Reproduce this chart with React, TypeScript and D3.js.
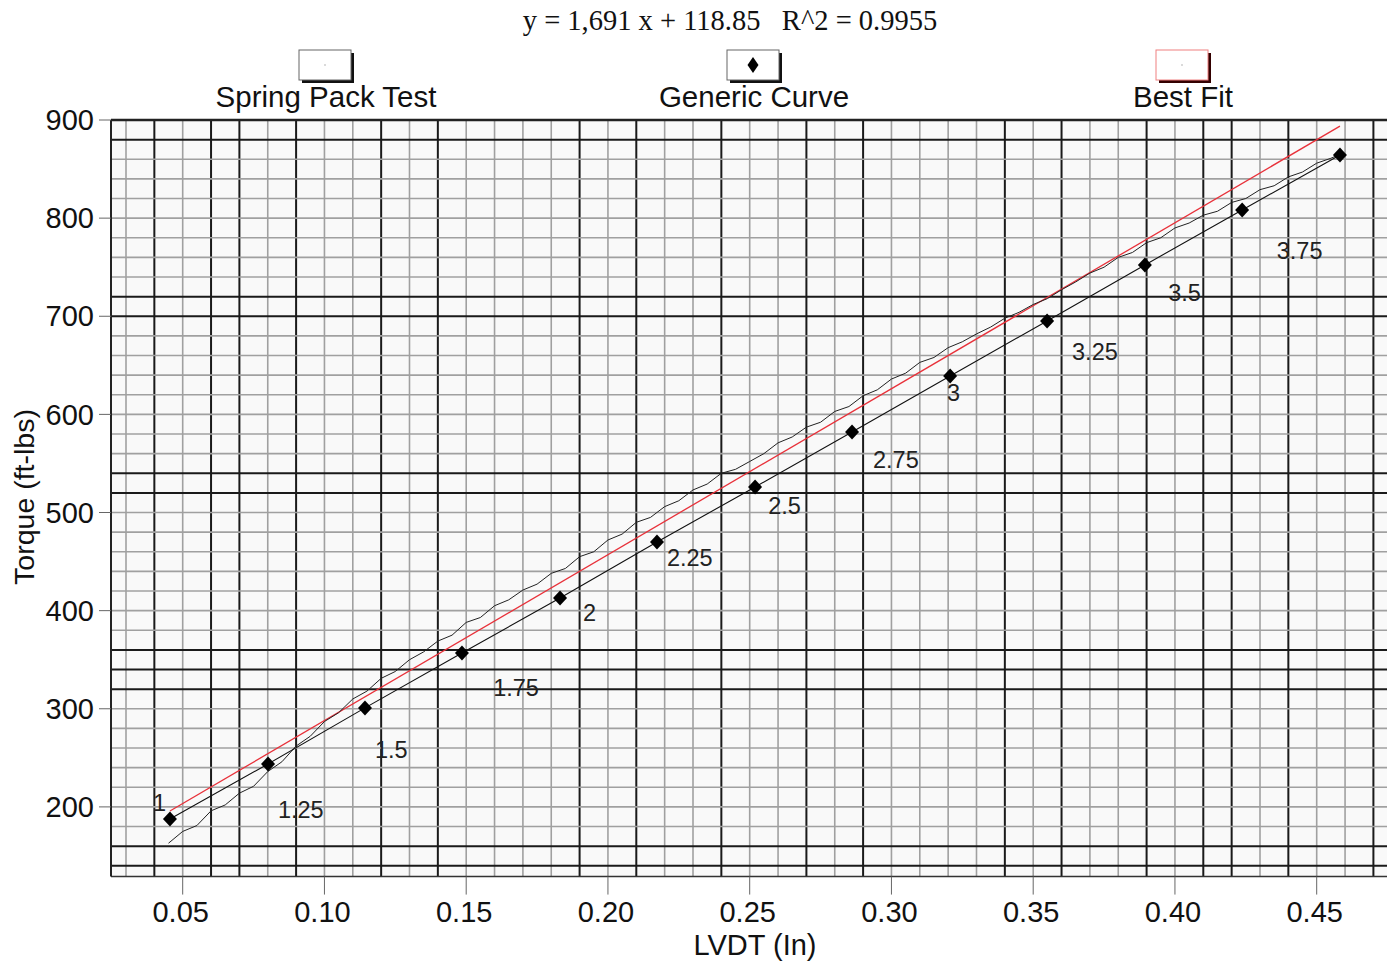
import React from "react";
import * as d3 from "d3";

const xTicks = [0.05, 0.1, 0.15, 0.2, 0.25, 0.3, 0.35, 0.4, 0.45];
const yTicks = [200, 300, 400, 500, 600, 700, 800, 900];

const gridX = d3.range(3, 48).map((d) => d / 100);
const heavyGridX = [0.04, 0.06, 0.07, 0.09, 0.12, 0.14, 0.19, 0.21, 0.24, 0.27, 0.29, 0.34, 0.36, 0.39, 0.41, 0.42, 0.44, 0.47];
const gridY = d3.range(140, 900, 20);
const heavyGridY = [880, 720, 700, 540, 520, 360, 340, 320, 160, 140];

const genericX = [0.0455, 0.0801, 0.1143, 0.1485, 0.1831, 0.2173, 0.2519, 0.2861, 0.3207, 0.3549, 0.3894, 0.4237, 0.4582];
const genericY = [187.7, 243.8, 300.9, 356.9, 412.9, 470.0, 526.0, 582.1, 639.2, 695.2, 752.3, 808.3, 864.3];

const pointLabels = ["1", "1.25", "1.5", "1.75", "2", "2.25", "2.5", "2.75", "3", "3.25", "3.5", "3.75"];
const labelX = [0.0395, 0.0836, 0.1178, 0.1595, 0.1912, 0.2208, 0.2565, 0.2935, 0.3196, 0.3637, 0.3976, 0.4359];
const labelY = [204, 196.9, 258, 321.2, 397.6, 453.7, 506.7, 553.5, 621.8, 663.6, 723.7, 766.5];

const springX = [
  0.045, 0.05, 0.055, 0.06, 0.065, 0.07, 0.075, 0.08, 0.085, 0.09, 0.095, 0.1, 0.105, 0.11, 0.115, 0.12,
  0.125, 0.13, 0.135, 0.14, 0.145, 0.15, 0.155, 0.16, 0.165, 0.17, 0.175, 0.18, 0.185, 0.19, 0.195, 0.2,
  0.205, 0.21, 0.215, 0.22, 0.225, 0.23, 0.235, 0.24, 0.245, 0.25, 0.255, 0.26, 0.265, 0.27, 0.275, 0.28,
  0.285, 0.29, 0.295, 0.3, 0.305, 0.31, 0.315, 0.32, 0.325, 0.33, 0.335, 0.34, 0.345, 0.35, 0.355, 0.36,
  0.365, 0.37, 0.375, 0.38, 0.385, 0.39, 0.395, 0.4, 0.405, 0.41, 0.415, 0.42, 0.425, 0.43, 0.435, 0.44,
  0.445, 0.45, 0.455, 0.4582,
];
const springY = [
  163, 175, 181, 196, 202, 214, 221, 236, 246, 262, 272, 287, 296, 310, 318, 331,
  338, 350, 358, 369, 375, 388, 393, 405, 411, 421, 427, 438, 443, 455, 460, 472,
  478, 490, 495, 506, 512, 523, 529, 540, 544, 552, 560, 571, 577, 587, 592, 603,
  608, 619, 625, 636, 642, 653, 658, 668, 674, 682, 689, 698, 704, 712, 718, 727,
  735, 744, 750, 760, 765, 775, 780, 790, 795, 803, 807, 816, 820, 829, 833, 842,
  847, 856, 861, 865,
];

const bestFitX = [0.0455, 0.4582];
const bestFitY = [195.8, 893.7];

const titleText = "y = 1,691 x + 118.85   R^2 = 0.9955";
const legendNames = ["Spring Pack Test", "Generic Curve", "Best Fit"];

const W = 1387;
const H = 963;

export default function App() {
  const x = d3.scaleLinear().domain([0.05, 0.45]).range([182.7, 1316.7]);
  const y = d3.scaleLinear().domain([200, 900]).range([806.9, 120]);
  const left = 111;
  const right = 1400;
  const top = y(900);
  const bottom = y(129);

  const line = d3
    .line<[number, number]>()
    .x((d) => x(d[0]))
    .y((d) => y(d[1]));

  const springPts = springX.map((v, i) => [v, springY[i]] as [number, number]);
  const genericPts = genericX.map((v, i) => [v, genericY[i]] as [number, number]);
  const fitPts = bestFitX.map((v, i) => [v, bestFitY[i]] as [number, number]);

  const sans = "'Liberation Sans', Arial, sans-serif";
  const serif = "'Liberation Serif', 'Times New Roman', serif";
  const diamond = "M0,-7.5L7,0L0,7.5L-7,0Z";
  const legendDiamond = "M0,-8L5.5,0L0,8L-5.5,0Z";

  const legendCx = [326, 754, 1183];

  return (
    <div style={{ position: "absolute", left: 0, top: 0 }}>
      <svg width={W} height={H} style={{ display: "block", background: "#fff" }}>
        <defs>
          <clipPath id="plotClip">
            <rect x={left} y={top} width={right - left} height={bottom - top} />
          </clipPath>
        </defs>
        <text x={730} y={30} textAnchor="middle" fontFamily={serif} fontSize={28.5} fill="#111" style={{ whiteSpace: "pre" }}>
          {titleText}
        </text>

        {legendNames.map((name, i) => {
          const cx = legendCx[i];
          const bx = cx - 27;
          const by = 50;
          return (
            <g key={name}>
              <rect x={bx + 3} y={by + 3} width={52} height={30} fill={i === 2 ? "#300" : "#111"} />
              <rect x={bx} y={by} width={52} height={30} fill="#fff" stroke={i === 2 ? "#f08080" : "#666"} strokeWidth={1} />
              {i === 1 && <path d={legendDiamond} transform={`translate(${bx + 26},${by + 15})`} fill="#000" />}
              {i !== 1 && <circle cx={bx + 26} cy={by + 15} r={0.7} fill="#999" />}
              <text x={cx} y={107} textAnchor="middle" fontFamily={sans} fontSize={29.5} fill="#111">
                {name}
              </text>
            </g>
          );
        })}

        <rect x={left} y={top} width={right - left} height={bottom - top} fill="#f9f9f9" />

        <g clipPath="url(#plotClip)">
          {gridX.map((g) => {
            const heavy = heavyGridX.some((h) => Math.abs(h - g) < 1e-6);
            return (
              <line key={"gx" + g} x1={x(g)} x2={x(g)} y1={top} y2={bottom} stroke={heavy ? "#1a1a1a" : "#a0a0a0"} strokeWidth={heavy ? 2 : 1.6} />
            );
          })}
          {gridY.map((g) => {
            const heavy = heavyGridY.includes(g);
            return (
              <line key={"gy" + g} x1={left} x2={right} y1={y(g)} y2={y(g)} stroke={heavy ? "#1a1a1a" : "#a0a0a0"} strokeWidth={heavy ? 2 : 1.6} />
            );
          })}
        </g>

        <line x1={left} x2={right} y1={top} y2={top} stroke="#222" strokeWidth={2.5} />
        <line x1={left} x2={right} y1={bottom} y2={bottom} stroke="#333" strokeWidth={1.5} />
        <line x1={left} x2={left} y1={top} y2={bottom} stroke="#222" strokeWidth={2} />

        {yTicks.map((t) => (
          <g key={"yt" + t}>
            <line x1={99} x2={left} y1={y(t)} y2={y(t)} stroke="#666" strokeWidth={1} />
            <text x={94} y={y(t)} dy="0.35em" textAnchor="end" fontFamily={sans} fontSize={29} fill="#111">
              {t}
            </text>
          </g>
        ))}
        {xTicks.map((t) => (
          <g key={"xt" + t}>
            <line x1={x(t)} x2={x(t)} y1={bottom} y2={bottom + 18} stroke="#666" strokeWidth={1} />
            <text x={x(t) - 2} y={922} textAnchor="middle" fontFamily={sans} fontSize={29} fill="#111">
              {t.toFixed(2)}
            </text>
          </g>
        ))}

        <text x={755} y={955} textAnchor="middle" fontFamily={sans} fontSize={29} fill="#111">
          LVDT (In)
        </text>
        <text transform={`translate(34,497) rotate(-90)`} textAnchor="middle" fontFamily={sans} fontSize={28.5} fill="#111">
          Torque (ft-lbs)
        </text>

        <g clipPath="url(#plotClip)">
          <path d={line(fitPts) || ""} fill="none" stroke="#e8313a" strokeWidth={1.3} />
          <path d={line(springPts) || ""} fill="none" stroke="#222" strokeWidth={1} />
          <path d={line(genericPts) || ""} fill="none" stroke="#111" strokeWidth={1.1} />
          {genericPts.map((p, i) => (
            <path key={"gp" + i} d={diamond} transform={`translate(${x(p[0])},${y(p[1])})`} fill="#000" />
          ))}
          {pointLabels.map((l, i) => (
            <text key={"pl" + i} x={x(labelX[i])} y={y(labelY[i])} dy="0.35em" fontFamily={sans} fontSize={23.5} fill="#222">
              {l}
            </text>
          ))}
        </g>
      </svg>
    </div>
  );
}
